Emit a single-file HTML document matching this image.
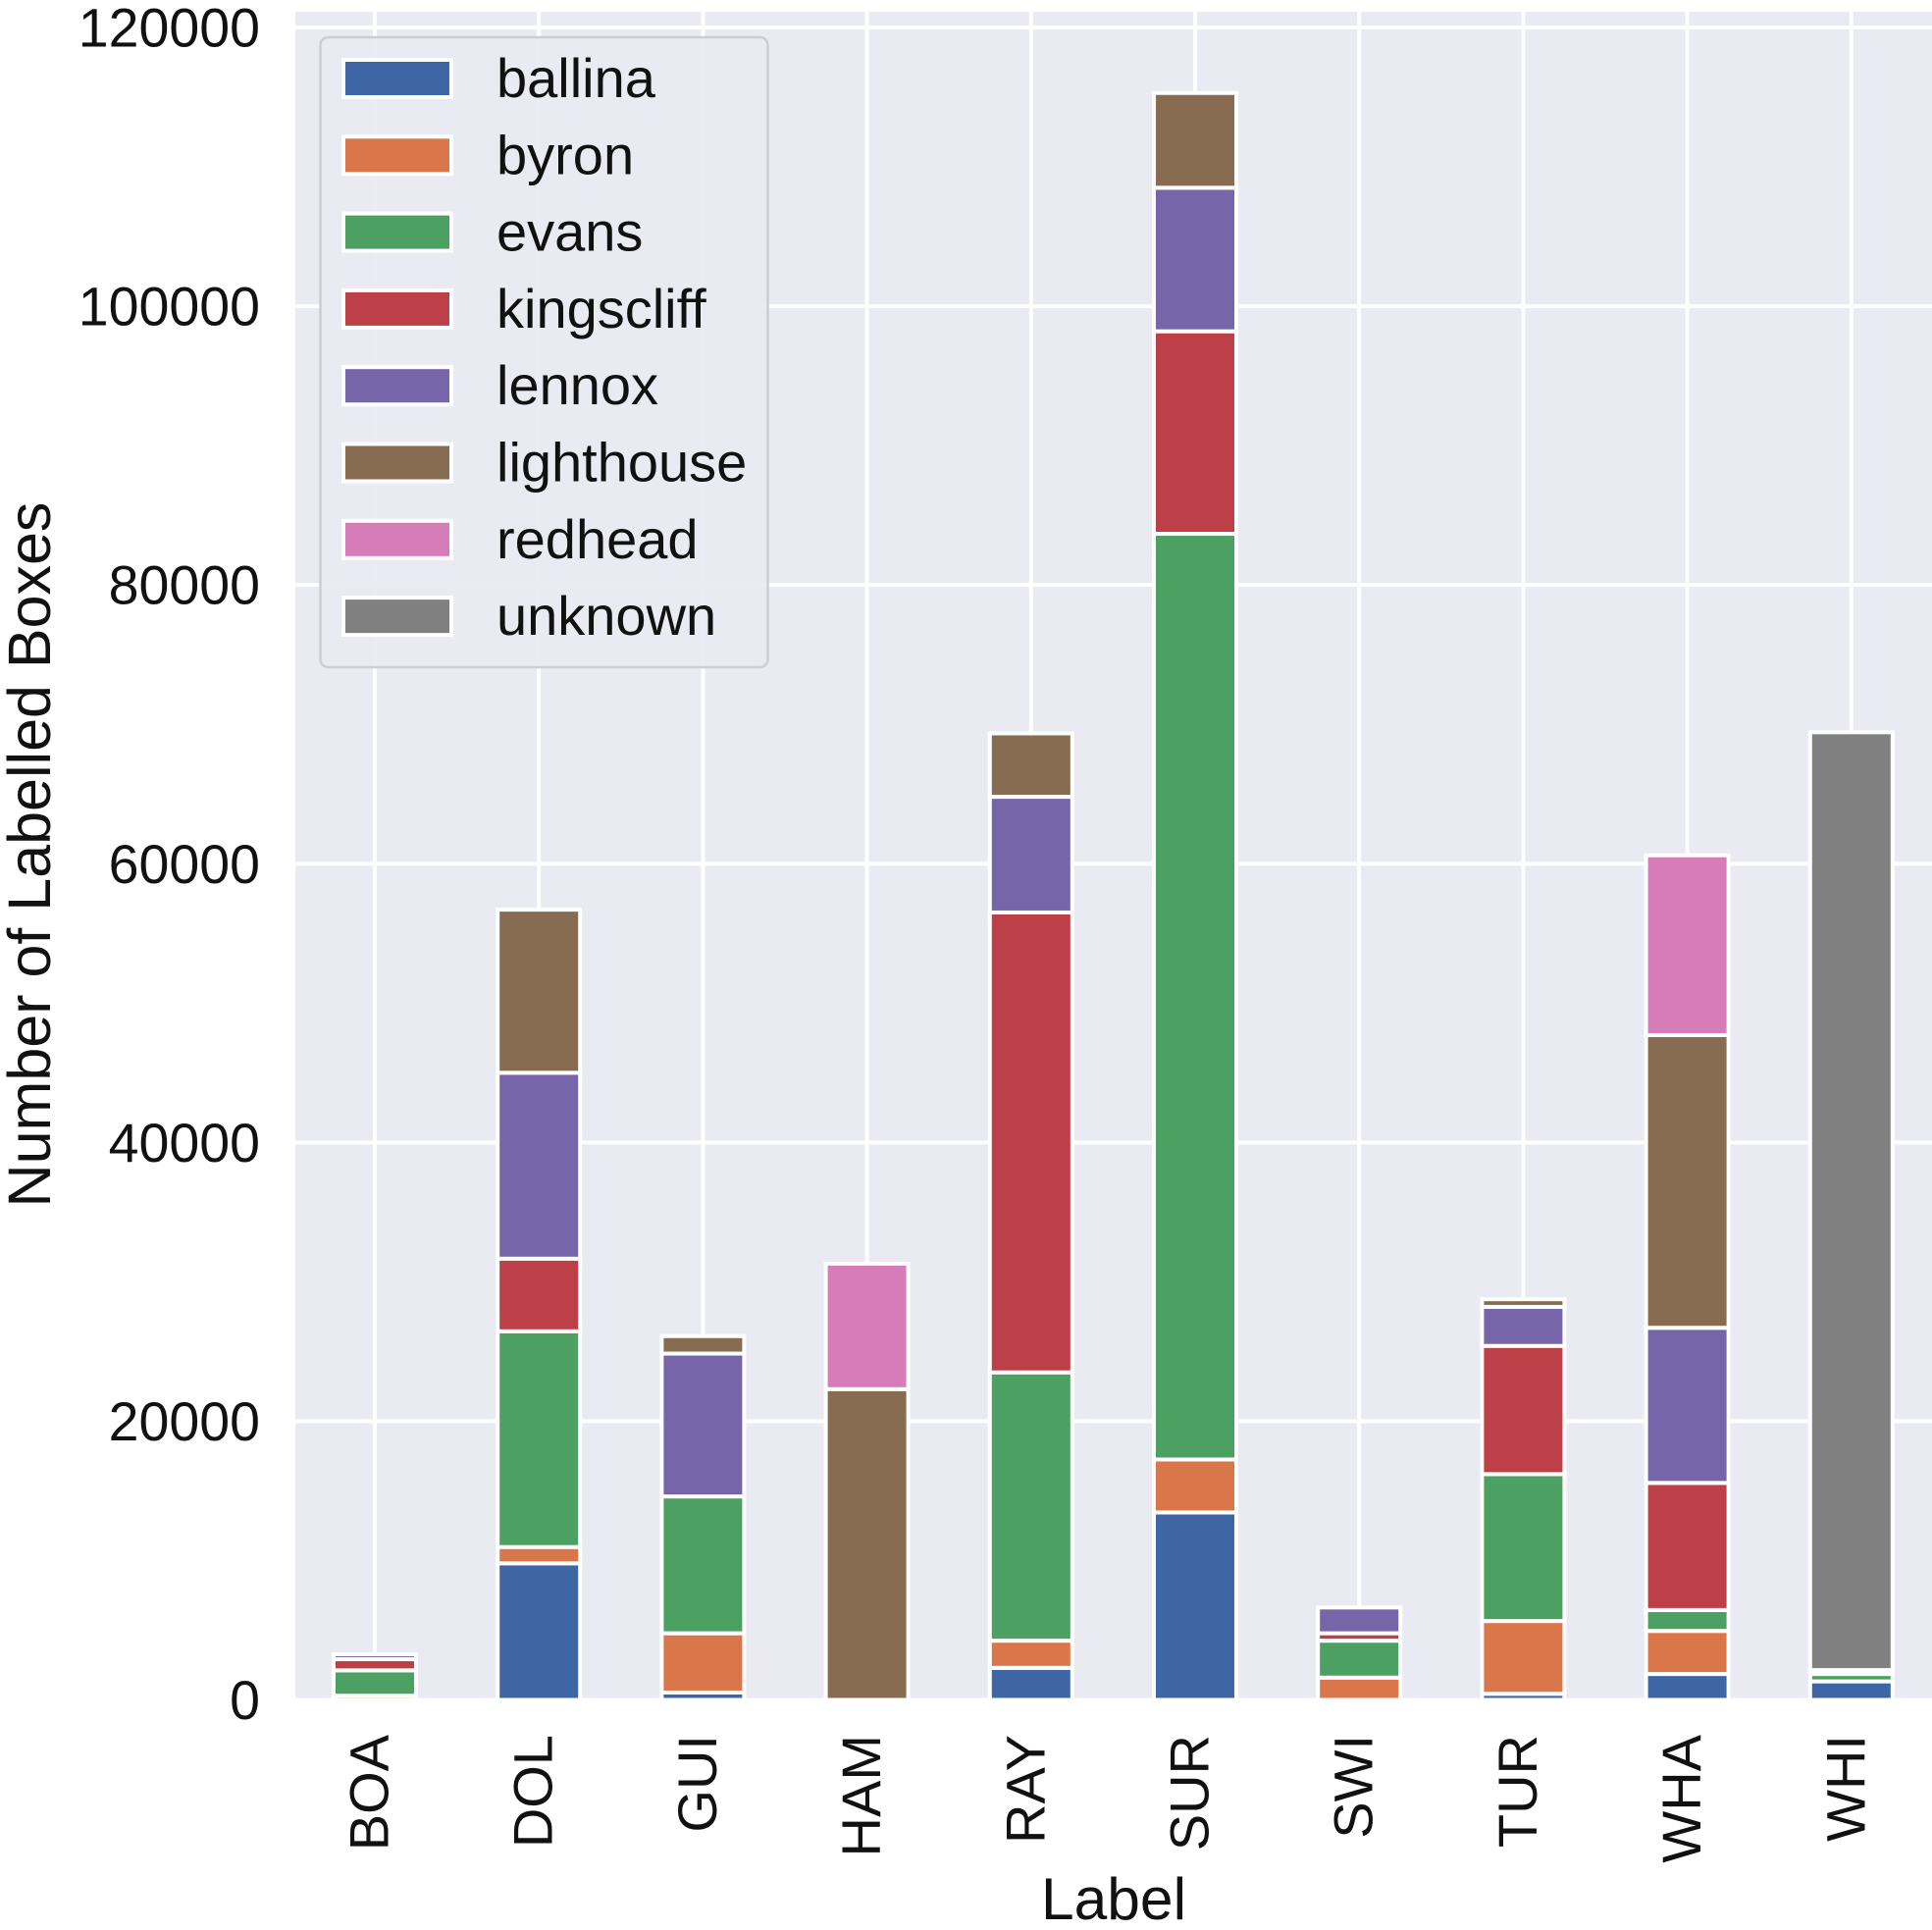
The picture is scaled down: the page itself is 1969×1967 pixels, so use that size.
<!DOCTYPE html>
<html lang="en">
<head>
<meta charset="utf-8">
<title>Number of Labelled Boxes by Label</title>
<style>
html,body{margin:0;padding:0;background:#fff;}
svg{display:block;font-family:"Liberation Sans",Arial,sans-serif;}
</style>
</head>
<body>
<svg id="chart" xmlns="http://www.w3.org/2000/svg" width="1969" height="1967" viewBox="0 0 1969 1967">
  <rect x="301" y="12" width="1668" height="1720" fill="#eaeaf2"/>
  <g id="grid"></g>
  <g id="bars"></g>
  <g id="yticks"></g>
  <g id="xticks"></g>
  <text transform="translate(51,871) rotate(-90)" text-anchor="middle" font-size="61" fill="#111">Number of Labelled Boxes</text>
  <text x="1135" y="1956" text-anchor="middle" font-size="60.5" fill="#111">Label</text>
  <g id="legend"></g>
</svg>
<script>
const categories = ["BOA","DOL","GUI","HAM","RAY","SUR","SWI","TUR","WHA","WHI"];
const seriesNames = ["ballina","byron","evans","kingscliff","lennox","lighthouse","redhead","unknown"];
const ballina    = [0, 9800, 530, 0, 2300, 13450, 0, 440, 1860, 1330];
const byron      = [300, 1170, 4250, 0, 1950, 3800, 1600, 5220, 3090, 0];
const evans      = [1820, 15480, 9820, 0, 19250, 66420, 2650, 10540, 1500, 530];
const kingscliff = [800, 5210, 0, 0, 33000, 14530, 530, 9200, 9120, 280];
const lennox     = [350, 13340, 10250, 0, 8300, 10300, 1850, 2800, 11130, 0];
const lighthouse = [0, 11700, 1250, 22300, 4550, 6800, 0, 550, 21000, 0];
const redhead    = [0, 0, 0, 9000, 0, 0, 0, 0, 12900, 0];
const unknown    = [0, 0, 0, 0, 0, 0, 0, 0, 0, 67290];
const yTickValues = [0, 20000, 40000, 60000, 80000, 100000, 120000];
const yTickLabels = ["0","20000","40000","60000","80000","100000","120000"];
const seriesColors = ["#3f66a4","#da774a","#4ca061","#bd3f48","#7665a8","#886c52","#d57cb9","#808080"];

const seriesValues = [ballina, byron, evans, kingscliff, lennox, lighthouse, redhead, unknown];
const NS = "http://www.w3.org/2000/svg";
function xScale(i){ return 382 + 167.2 * i; }
function yScale(v){ return 1732.5 - v * (1704.5 / 120000); }
function make(tag, attrs, parent){
  const el = document.createElementNS(NS, tag);
  for (const k in attrs) el.setAttribute(k, attrs[k]);
  parent.appendChild(el);
  return el;
}
const gridG = document.getElementById("grid");
const barsG = document.getElementById("bars");
const yG = document.getElementById("yticks");
const xG = document.getElementById("xticks");
const legendG = document.getElementById("legend");

yTickValues.forEach(function(v, i){
  const line = make("line", {x1:301, x2:1969, y1:yScale(v), y2:yScale(v), stroke:"#fff", "stroke-width":4}, gridG);
  
  
  const t = make("text", {x:265, y:yScale(v)+19.5, "text-anchor":"end", "font-size":55.5, fill:"#111"}, yG);
  
  
  t.textContent = yTickLabels[i];
});

categories.forEach(function(c, i){
  const line = make("line", {x1:xScale(i), x2:xScale(i), y1:12, y2:1732, stroke:"#fff", "stroke-width":4}, gridG);
  
  
  const t = make("text", {transform:"translate("+(xScale(i)+13.5)+",1768) rotate(-90)", "text-anchor":"end", "font-size":56, fill:"#111"}, xG);
  
  
  t.textContent = c;
});

categories.forEach(function(c, i){
  let base = 0;
  seriesValues.forEach(function(vals, s){
    const v = vals[i];
    if (v > 0) {
      const r = make("rect", {x:xScale(i)-42, width:84, y:yScale(base+v), height:yScale(base)-yScale(base+v), fill:seriesColors[s], stroke:"#fff", "stroke-width":4}, barsG);
      
      
    }
    base += v;
  });
});

const legendBox = make("rect", {x:326.5, y:38, width:456, height:642, rx:8, ry:8, fill:"#eaeaf2", "fill-opacity":0.95, stroke:"#cdcdd6", "stroke-width":2.5}, legendG);


seriesNames.forEach(function(n, i){
  const cy = 80 + i * 78.3;
  const p = make("rect", {x:350, y:cy-19, width:110, height:38, fill:seriesColors[i], stroke:"#fff", "stroke-width":4}, legendG);
  
  
  const t = make("text", {x:506, y:cy+19, "font-size":56, fill:"#111"}, legendG);
  
  
  t.textContent = n;
});
</script>
</body>
</html>
